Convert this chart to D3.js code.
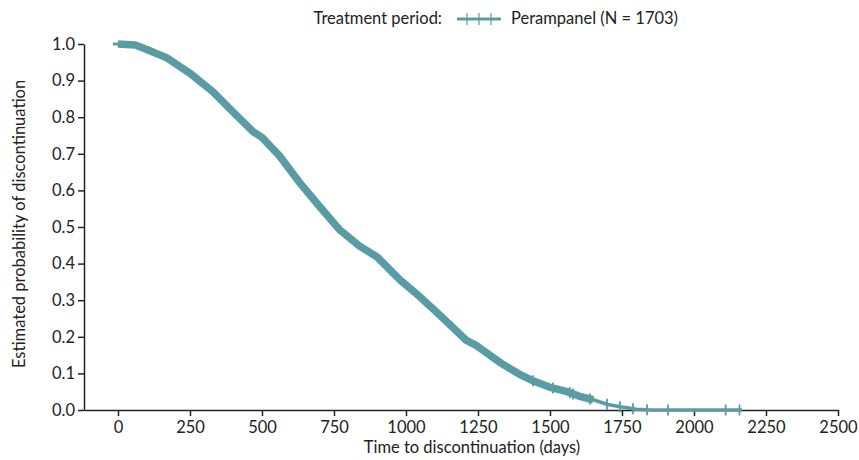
<!DOCTYPE html>
<html>
<head>
<meta charset="utf-8">
<script src="https://cdn.jsdelivr.net/npm/d3@7"></script>
<style>
  body { margin: 0; background: #fff; }
  text { font-family: Lato, "Open Sans", sans-serif; fill: #222; }
</style>
</head>
<body>
<script>
const width = 859;
const height = 460;

// Kaplan-Meier estimate
const days = [0, 60, 100, 170, 250, 330, 400, 470, 500, 560, 630, 700, 770, 840, 900,
    980, 1040, 1100, 1150, 1210, 1245, 1255, 1330, 1400, 1440, 1500, 1560, 1600, 1650,
    1700, 1750, 1800, 1850, 2167];
const probability = [1.0, 0.997, 0.985, 0.962, 0.92, 0.869, 0.814, 0.76, 0.745, 0.695,
    0.622, 0.556, 0.492, 0.447, 0.418, 0.355, 0.315, 0.272, 0.235, 0.19, 0.176, 0.17,
    0.128, 0.095, 0.08, 0.062, 0.05, 0.038, 0.028, 0.015, 0.008, 0.002, 0.0, 0.0];
// censored observations visible in the tail
const censorDays = [1441, 1510, 1569, 1580, 1639, 1698, 1743, 1788, 1837, 1910, 2110, 2158];

const xTicks = [0, 250, 500, 750, 1000, 1250, 1500, 1750, 2000, 2250, 2500];
const yTicks = [0, 0.1, 0.2, 0.3, 0.4, 0.5, 0.6, 0.7, 0.8, 0.9, 1.0];

const seriesName = "Perampanel (N = 1703)";
const legendTitle = "Treatment period:";
const color = "#5a9ca3";
const fontSize = 16.5;

const svg = d3.select("body")
    .append("svg")
    .attr("width", width)
    .attr("height", height);

const x = d3.scaleLinear().domain([-118, 2500]).range([84, 838]);
const y = d3.scaleLinear().domain([0, 1]).range([410, 44]);

const points = days.map((d, i) => ({day: d, p: probability[i]}));

function stepAt(day) {
    // linear read between stored points
    for (let i = 1; i < points.length; i++) {
        if (points[i].day >= day) {
            const a = points[i - 1], b = points[i];
            return a.p + (b.p - a.p) * (day - a.day) / (b.day - a.day);
        }
    }
    return 0;
}

// x axis
const xAxis = svg.append("g")
    .attr("transform", "translate(0," + y(0) + ")")
    .call(d3.axisBottom(x).tickValues(xTicks).tickFormat(d3.format("d"))
        .tickSize(6).tickPadding(5).tickSizeOuter(0));
xAxis.select(".domain").attr("stroke", "#222").attr("stroke-width", 1.5);
xAxis.selectAll(".tick line").attr("stroke", "#222").attr("stroke-width", 1.5);
xAxis.selectAll("text").attr("font-size", fontSize).style("font-family", "Lato, sans-serif").attr("fill", "#222");

// y axis
const yAxis = svg.append("g")
    .attr("transform", "translate(" + x(-118) + ",0)")
    .call(d3.axisLeft(y).tickValues(yTicks).tickFormat(d3.format(".1f"))
        .tickSize(6).tickPadding(3).tickSizeOuter(0));
yAxis.select(".domain").attr("stroke", "#222").attr("stroke-width", 1.5);
yAxis.selectAll(".tick line").attr("stroke", "#222").attr("stroke-width", 1.5);
yAxis.selectAll("text").attr("font-size", fontSize).style("font-family", "Lato, sans-serif").attr("fill", "#222");

// axis titles
svg.append("text")
    .attr("x", 472)
    .attr("y", 453)
    .attr("text-anchor", "middle")
    .attr("font-size", fontSize)
    .text("Time to discontinuation (days)");

svg.append("text")
    .attr("transform", "translate(25," + 224 + ") rotate(-90)")
    .attr("text-anchor", "middle")
    .attr("font-size", fontSize)
    .text("Estimated probability of discontinuation");

// curve: thick band where censoring is dense, thin line for whole curve
const line = d3.line()
    .x(d => x(d.day))
    .y(d => y(d.p));

svg.append("path")
    .datum(points.filter(d => d.day <= 1650))
    .attr("d", line)
    .attr("fill", "none")
    .attr("stroke", color)
    .attr("stroke-width", 7.5)
    .attr("stroke-linejoin", "round");

svg.append("path")
    .datum(points)
    .attr("d", line)
    .attr("fill", "none")
    .attr("stroke", color)
    .attr("stroke-width", 3.5);

// short flat lead-in at the start
svg.append("line")
    .attr("x1", x(-18)).attr("x2", x(40))
    .attr("y1", y(1)).attr("y2", y(1))
    .attr("stroke", color).attr("stroke-width", 3);

svg.selectAll(".censor")
    .data(censorDays)
    .enter()
    .append("line")
    .attr("class", "censor")
    .attr("x1", d => x(d)).attr("x2", d => x(d))
    .attr("y1", d => y(stepAt(d)) - 5.5)
    .attr("y2", d => y(stepAt(d)) + 5.5)
    .attr("stroke", color)
    .attr("stroke-width", 1.8);

// legend
const legend = svg.append("g");
legend.append("text")
    .attr("x", 442)
    .attr("y", 24)
    .attr("text-anchor", "end")
    .attr("font-size", fontSize)
    .text(legendTitle);
legend.append("line")
    .attr("x1", 457).attr("x2", 501)
    .attr("y1", 19).attr("y2", 19)
    .attr("stroke", color).attr("stroke-width", 3);
legend.selectAll(".ltick")
    .data([0, 1, 2])
    .enter()
    .append("line")
    .attr("x1", d => 467 + d * 12).attr("x2", d => 467 + d * 12)
    .attr("y1", 13).attr("y2", 25)
    .attr("stroke", color).attr("stroke-width", 1.2);
legend.append("text")
    .attr("x", 511)
    .attr("y", 24)
    .attr("font-size", fontSize)
    .text(seriesName);
</script>
</body>
</html>
